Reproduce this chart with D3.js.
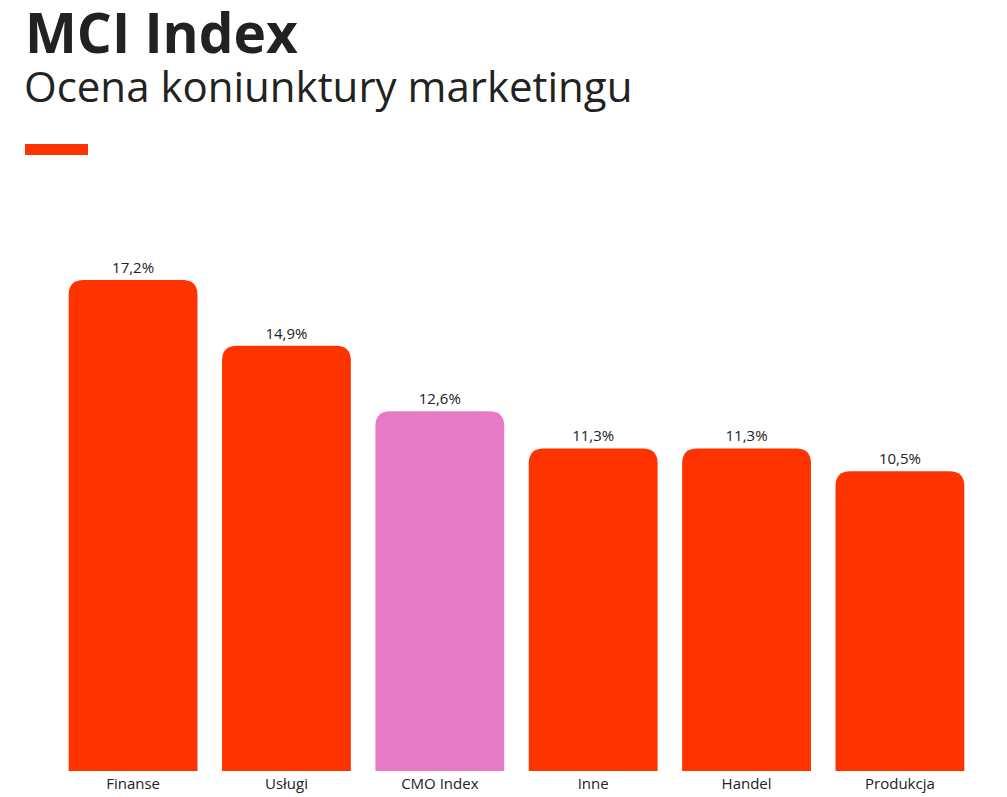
<!DOCTYPE html>
<html>
<head>
<meta charset="utf-8">
<script src="https://cdn.jsdelivr.net/npm/d3@7"></script>
<style>
  body { margin: 0; background: #fff; }
  text { font-family: "Open Sans", sans-serif; }
</style>
</head>
<body>
<div id="plot"></div>
<script>
// data
const categories = ["Finanse", "Usługi", "CMO Index", "Inne", "Handel", "Produkcja"];
const values = [17.2, 14.9, 12.6, 11.3, 11.3, 10.5];
const highlight = "CMO Index";

const w = 1007;
const h = 797;

const svg = d3.select("div#plot")
  .append("svg")
    .attr("width", w)
    .attr("height", h);

// title block
svg.append("text")
  .attr("x", 25)
  .attr("y", 53)
  .style("font-size", "55px")
  .style("font-weight", "700")
  .attr("fill", "#222")
  .text("MCI Index");

svg.append("text")
  .attr("x", 24)
  .attr("y", 102)
  .style("font-size", "42px")
  .attr("fill", "#222")
  .text("Ocena koniunktury marketingu");

svg.append("rect")
  .attr("x", 25)
  .attr("y", 144)
  .attr("width", 63)
  .attr("height", 11)
  .attr("fill", "#FF3300");

// scales
const xScale = d3.scaleBand()
  .domain(categories)
  .range([61, 972])
  .paddingInner(0.16)
  .paddingOuter(0.05);

const yScale = d3.scaleLinear()
  .domain([0, 17.2])
  .range([771, 280]);

const r = 15;
function barPath(x, y, bw, y0) {
  return `M${x},${y0} V${y + r} Q${x},${y} ${x + r},${y} H${x + bw - r} Q${x + bw},${y} ${x + bw},${y + r} V${y0} Z`;
}

const data = categories.map((c, i) => ({cat: c, val: values[i]}));

svg.append("g")
  .selectAll("path")
  .data(data)
  .enter()
  .append("path")
    .attr("d", d => barPath(xScale(d.cat), yScale(d.val), xScale.bandwidth(), yScale(0)))
    .attr("fill", d => d.cat === highlight ? "#E77AC5" : "#FF3300");

// value labels
svg.append("g")
  .selectAll("text")
  .data(data)
  .enter()
  .append("text")
    .attr("x", d => xScale(d.cat) + xScale.bandwidth() / 2)
    .attr("y", d => yScale(d.val) - 7)
    .attr("text-anchor", "middle")
    .style("font-size", "15px")
    .attr("fill", "#222")
    .text(d => d.val.toFixed(1).replace(".", ",") + "%");

// category axis
const xAxis = d3.axisBottom(xScale).tickSize(0).tickPadding(7);
const gx = svg.append("g")
  .attr("transform", `translate(0, ${yScale(0)})`)
  .call(xAxis);
gx.select(".domain").remove();
gx.selectAll("text")
  .style("font-size", "15px")
  .style("font-family", "'Open Sans', sans-serif")
  .attr("fill", "#222");
</script>
</body>
</html>
